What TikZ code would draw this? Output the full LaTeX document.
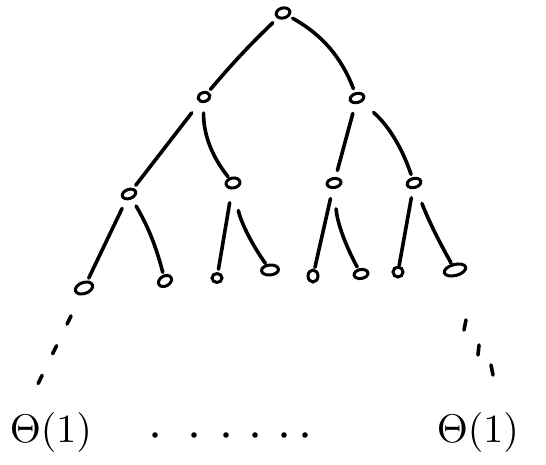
\documentclass[tikz,border=0pt]{standalone}
\usepackage{graphicx}
\usetikzlibrary{shapes.geometric}
\begin{document}
\begin{tikzpicture}[x=1pt,y=1pt,
  ink/.style={line width=3.6pt,line cap=round,line join=round},
  vert/.style={ellipse,draw,line width=3pt,inner sep=0pt,minimum width=#1},
  edge/.style={ink},
  lbl/.style={inner sep=0pt}]
\useasboundingbox (0,0) rectangle (546,464);
% vertices
\node[vert=14pt,minimum height=10pt,rotate=15] (r) at (283,451) {};
\node[vert=12pt,minimum height=9pt,rotate=15] (a) at (204,367) {};
\node[vert=14pt,minimum height=9pt,rotate=15] (b) at (357,366) {};
\node[vert=14pt,minimum height=9pt,rotate=20] (c) at (129,270) {};
\node[vert=14pt,minimum height=10pt,rotate=10] (d) at (233,281) {};
\node[vert=14pt,minimum height=9pt,rotate=10] (e) at (334,281) {};
\node[vert=14pt,minimum height=9pt,rotate=15] (f) at (414,281) {};
\node[vert=18pt,minimum height=11pt,rotate=20] (g1) at (84,176) {};
\node[vert=14pt,minimum height=10pt,rotate=30] (g2) at (165,183) {};
\node[vert=10pt,minimum height=9pt,rotate=0] (g3) at (217,186) {};
\node[vert=17pt,minimum height=10pt,rotate=5] (g4) at (270,194) {};
\node[vert=10pt,minimum height=12pt,rotate=0] (g5) at (313,188) {};
\node[vert=14pt,minimum height=9pt,rotate=10] (g6) at (361,190) {};
\node[vert=10pt,minimum height=10pt,rotate=0] (g7) at (398,192) {};
\node[vert=22pt,minimum height=11pt,rotate=15] (g8) at (455,194) {};
% edges
\draw[edge,shorten <=14pt,shorten >=10pt] (r.center) to[bend right=3] (a.center);
\draw[edge,shorten <=11pt,shorten >=10pt] (r.center) to[bend left=20] (b.center);
\draw[edge,shorten <=20pt,shorten >=11pt] (a.center) to (c.center);
\draw[edge,shorten <=16pt,shorten >=8pt] (a.center) to[bend right=20] (d.center);
\draw[edge,shorten <=16pt,shorten >=13pt] (b.center) to (e.center);
\draw[edge,shorten <=22pt,shorten >=9pt] (b.center) to[bend left=15] (f.center);
\draw[edge,shorten <=16pt,shorten >=11pt] (c.center) to (g1.center);
\draw[edge,shorten <=14pt,shorten >=9pt] (c.center) to[bend left=8] (g2.center);
\draw[edge,shorten <=20pt,shorten >=9pt] (d.center) to (g3.center);
\draw[edge,shorten <=28pt,shorten >=8pt] (d.center) to[bend right=12] (g4.center);
\draw[edge,shorten <=16pt,shorten >=9pt] (e.center) to (g5.center);
\draw[edge,shorten <=26pt,shorten >=8pt] (e.center) to[bend right=12] (g6.center);
\draw[edge,shorten <=15pt,shorten >=7pt] (f.center) to (g7.center);
\draw[edge,shorten <=22pt,shorten >=8pt] (f.center) to[bend right=4] (g8.center);
% labels
\node[lbl] (t1) at (51,32) {\scalebox{4.0}{$\Theta(1)$}};
\node[lbl] (t2) at (478,32) {\scalebox{4.0}{$\Theta(1)$}};
% dashed continuations
\coordinate (l1) at (71,148);
\coordinate (l2) at (35,74);
\draw[ink,dash pattern=on 9pt off 24pt] (l1) -- (l2);
\coordinate (q1) at (466,144); \coordinate (q2) at (464,134);
\coordinate (q3) at (479,119); \coordinate (q4) at (478,109);
\coordinate (q5) at (491,99);  \coordinate (q6) at (493,89);
\draw[ink] (q1) -- (q2);
\draw[ink] (q3) -- (q4);
\draw[ink] (q5) -- (q6);
% dots
\foreach \x in {155,194,226,255,284,305} \fill (\x,29) circle (2.8pt);
\end{tikzpicture}
\end{document}
